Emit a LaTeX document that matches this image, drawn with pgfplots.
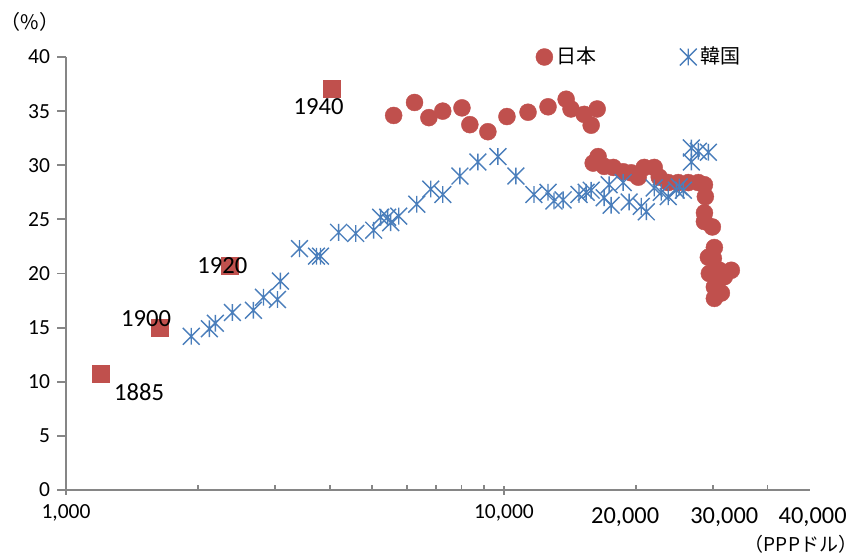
\documentclass[border=0pt]{standalone}
\usepackage{fontspec}
\setmainfont{Carlito}
\newfontfamily\cjk{Noto Sans CJK JP}
\usepackage{pgfplots}
\pgfplotsset{compat=1.18}
\definecolor{jpred}{HTML}{C0504D}
\definecolor{krblue}{HTML}{4A7EBB}
\definecolor{axgray}{HTML}{868686}
\pgfdeclareplotmark{xstar}{%
  \pgfpathmoveto{\pgfqpoint{-\pgfplotmarksize}{-\pgfplotmarksize}}%
  \pgfpathlineto{\pgfqpoint{\pgfplotmarksize}{\pgfplotmarksize}}%
  \pgfpathmoveto{\pgfqpoint{-\pgfplotmarksize}{\pgfplotmarksize}}%
  \pgfpathlineto{\pgfqpoint{\pgfplotmarksize}{-\pgfplotmarksize}}%
  \pgfpathmoveto{\pgfqpoint{0pt}{-\pgfplotmarksize}}%
  \pgfpathlineto{\pgfqpoint{0pt}{\pgfplotmarksize}}%
  \pgfusepathqstroke}
\pgfplotstableread{
x y
5600 34.6
6250 35.8
6740 34.4
7250 35.0
8020 35.3
8360 33.75
9190 33.1
10160 34.5
11350 34.9
12610 35.4
13870 36.1
14230 35.2
15250 34.7
15820 33.7
16330 35.2
15990 30.2
16410 30.8
16940 29.9
17770 29.8
18720 29.4
19530 29.3
20260 28.9
20910 29.8
22040 29.8
22630 28.9
23730 28.4
25010 28.4
26370 28.4
27800 28.4
28700 28.2
28840 27.1
28700 25.6
28700 24.8
29920 24.3
30240 22.4
29300 21.5
30080 21.4
29450 20.0
31050 20.3
33060 20.3
31860 19.7
30240 18.75
31370 18.2
30240 17.7
}\japan
\pgfplotstableread{
x y
1932 14.2
2125 14.9
2193 15.4
2399 16.4
2679 16.6
2824 17.8
3040 17.6
3088 19.3
3414 22.3
3733 21.6
3812 21.6
4193 23.8
4587 23.7
5042 24.0
5231 25.2
5426 25.2
5513 24.7
5751 25.3
6323 26.4
6806 27.8
7251 27.3
7935 29.0
8720 30.3
9689 30.8
10650 29.0
11710 27.3
12610 27.5
13010 26.7
13650 26.8
14840 27.3
15410 27.5
15820 27.7
16940 27.0
17390 28.2
17570 26.3
18720 28.4
19320 26.6
20590 26.2
21140 25.7
22040 27.9
22870 27.5
23730 27.1
24750 27.7
25140 28.0
25690 27.7
26790 31.6
26790 30.3
27800 31.3
29300 31.2
}\korea
\pgfplotstableread{
x y
1200 10.7
1640 15.0
2370 20.7
4040 37.1
}\japanold
\begin{document}
\begin{tikzpicture}
\path[use as bounding box] (0,0) rectangle (428pt,279.5pt);
\begin{axis}[
  at={(33pt,34.5pt)}, anchor=south west,
  scale only axis, width=372pt, height=216.5pt,
  xmode=log, xmin=1000, xmax=50000, ymin=0, ymax=40,
  axis lines*=left,
  axis line style={axgray, line width=0.9pt},
  every tick/.append style={axgray, line width=0.9pt},
  xtick={1000,10000}, xticklabels={{1,000},{10,000}},
  minor xtick={2000,3000,4000,5000,6000,7000,8000,9000,20000,30000,40000},
  ytick={0,5,10,15,20,25,30,35,40},
  xtick align=center, ytick align=outside,
  major tick length=4.5pt, minor tick length=2.4pt,
  every minor tick/.append style={yshift=1.2pt},
  tick label style={font=\fontsize{10.75}{12}\selectfont, black},
  xticklabel style={yshift=-1.5pt},
  /pgf/number format/assume math mode=true,
  clip=false,
  legend style={draw=none, fill=none, at={(0.631,1.0)}, anchor=west,
    font=\cjk\fontsize{10}{12}\selectfont, inner sep=0pt,
    /tikz/every even column/.append style={column sep=39.5pt}},
  legend columns=2,
  legend image code/.code={\draw[#1] plot coordinates {(0.2cm,0cm)};},
]
\addplot[only marks, mark=*, mark size=4.25pt, color=jpred, mark options={fill=jpred, draw=jpred, line width=0.2pt}] table {\japan};
\addlegendentry{日本}
\addplot[only marks, mark=xstar, mark size=4.2pt, color=krblue, line width=0.7pt] table {\korea};
\addlegendentry{韓国}
\addplot[only marks, mark=square*, mark size=4.25pt, color=jpred, mark options={fill=jpred, draw=jpred, line width=0.2pt}, forget plot] table {\japanold};
\coordinate (l1885) at (axis cs:1469,9.03);
\coordinate (l1900) at (axis cs:1524,15.8);
\coordinate (l1920) at (axis cs:2275,20.7);
\coordinate (l1940) at (axis cs:3774,35.4);
\coordinate (t20) at (axis cs:18920,0);
\coordinate (t30) at (axis cs:31860,0);
\coordinate (t40) at (axis cs:50700,0);
\end{axis}
\node[font=\fontsize{12.3}{14}\selectfont] at (l1885) {1885};
\node[font=\fontsize{12.3}{14}\selectfont] at (l1900) {1900};
\node[font=\fontsize{12.3}{14}\selectfont] at (l1920) {1920};
\node[font=\fontsize{12.3}{14}\selectfont] at (l1940) {1940};
\node[font=\fontsize{12.2}{14}\selectfont, yshift=-13.5pt] at (t20) {20,000};
\node[font=\fontsize{12.2}{14}\selectfont, yshift=-13.5pt] at (t30) {30,000};
\node[font=\fontsize{12.2}{14}\selectfont, yshift=-13.5pt] at (t40) {40,000};
\node[font=\cjk\fontsize{10}{12}\selectfont] at (15pt,268.5pt) {（\%）};
\node[font=\cjk\fontsize{9.5}{11}\selectfont] at (400.5pt,7.5pt) {（PPPドル）};
\end{tikzpicture}
\end{document}
